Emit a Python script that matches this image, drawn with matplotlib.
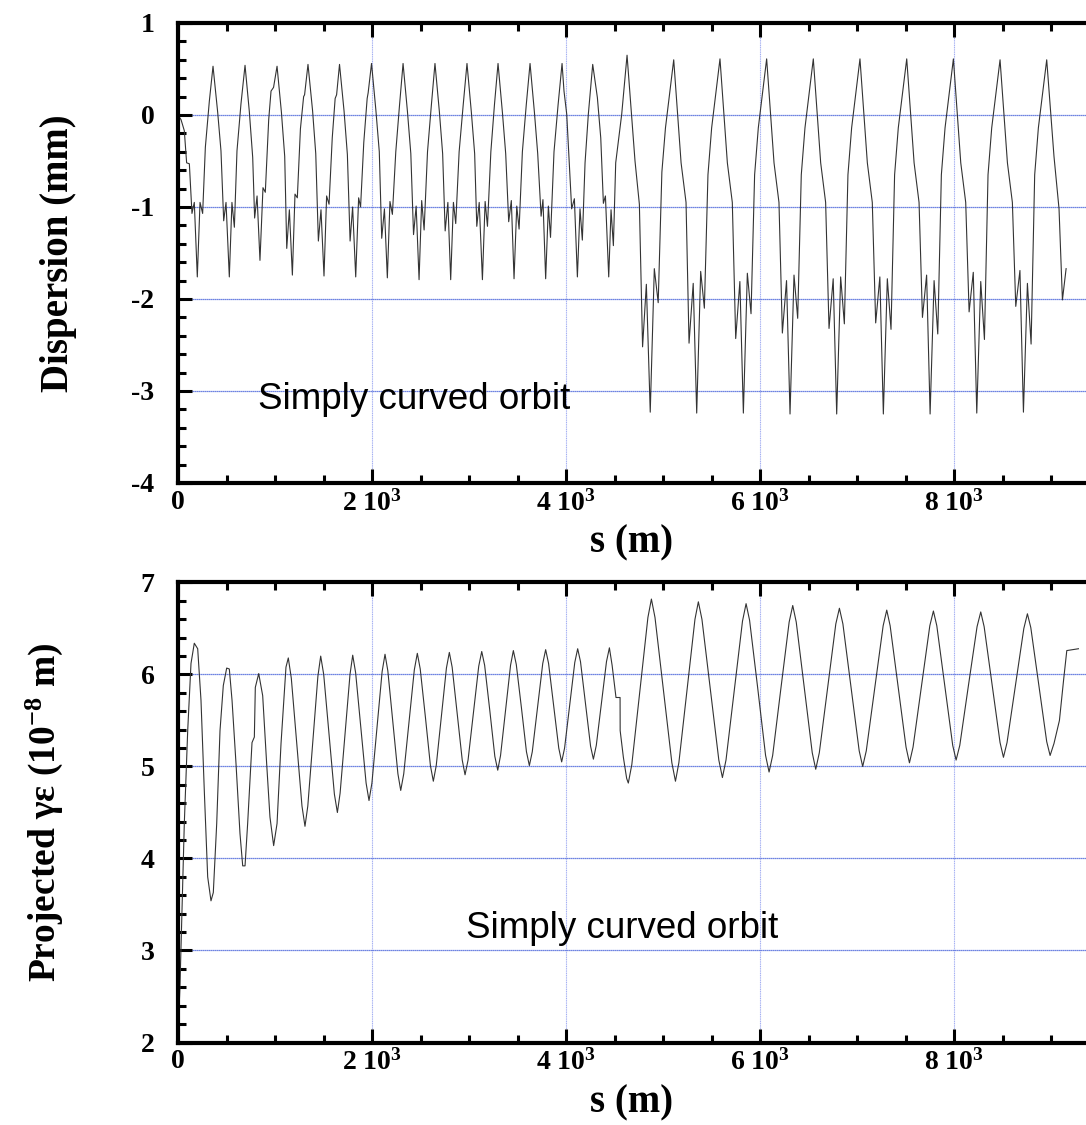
import matplotlib
matplotlib.use("Agg")
import matplotlib.pyplot as plt
from matplotlib.ticker import MultipleLocator, FixedLocator, FixedFormatter

# ---- data ----
# top panel: dispersion (mm) along s (m)
disp_s = [
    0, 31, 65, 89, 117, 144, 168, 199, 227, 254, 282, 323, 361,
    409, 443, 471, 495, 529, 556, 581, 608, 649, 691,
    735, 770, 790, 815, 845, 876, 900, 935, 959, 985, 1021,
    1066, 1100, 1121, 1148, 1179, 1206, 1230, 1262, 1295, 1305, 1340,
    1387, 1420, 1447, 1474, 1505, 1532, 1557, 1590, 1620, 1635, 1665,
    1712, 1746, 1774, 1800, 1832, 1862, 1882, 1915, 1950, 1960, 1995,
    2040, 2075, 2100, 2128, 2158, 2185, 2210, 2245, 2283, 2320,
    2365, 2400, 2428, 2455, 2485, 2512, 2537, 2572, 2612, 2649,
    2694, 2728, 2754, 2782, 2811, 2839, 2863, 2898, 2940, 2979,
    3024, 3058, 3080, 3105, 3138, 3166, 3190, 3225, 3262, 3299,
    3344, 3378, 3409, 3436, 3464, 3492, 3516, 3550, 3590, 3629,
    3674, 3708, 3743, 3762, 3790, 3818, 3840, 3876, 3918, 3959,
    3979, 4007, 4058, 4086, 4117, 4144, 4168, 4196, 4230, 4275,
    4323, 4358, 4385, 4406, 4440, 4464, 4488, 4512, 4574, 4629,
    4711, 4756, 4789, 4828, 4868, 4910, 4950, 4988, 5025, 5110,
    5186, 5237, 5268, 5311, 5347, 5388, 5426, 5463, 5501, 5587,
    5663, 5714, 5749, 5792, 5828, 5869, 5907, 5944, 5982, 6068,
    6144, 6195, 6230, 6273, 6309, 6350, 6388, 6425, 6463, 6549,
    6625, 6676, 6711, 6754, 6790, 6831, 6869, 6906, 6944, 7030,
    7106, 7157, 7192, 7235, 7271, 7312, 7350, 7387, 7425, 7512,
    7588, 7639, 7674, 7717, 7753, 7794, 7832, 7869, 7907, 7993,
    8069, 8120, 8155, 8198, 8234, 8275, 8313, 8350, 8388, 8474,
    8550, 8601, 8636, 8679, 8715, 8756, 8794, 8831, 8869, 8955,
    9030, 9082, 9117, 9155,
]
disp_mm = [
    0.00, -0.05, -0.17, -0.52, -0.53, -1.07, -0.95, -1.76, -0.95, -1.07, -0.35, 0.15, 0.53,
    0.03, -0.39, -1.15, -0.95, -1.76, -0.95, -1.22, -0.39, 0.12, 0.54,
    0.04, -0.46, -1.12, -0.88, -1.58, -0.79, -0.84, -0.05, 0.26, 0.30, 0.53,
    0.03, -0.45, -1.45, -1.03, -1.74, -0.86, -0.90, -0.15, 0.20, 0.22, 0.55,
    0.05, -0.42, -1.37, -1.03, -1.75, -0.88, -0.97, -0.25, 0.18, 0.22, 0.55,
    0.04, -0.43, -1.37, -1.00, -1.76, -0.90, -1.00, -0.30, 0.18, 0.24, 0.56,
    0.05, -0.40, -1.34, -1.02, -1.77, -0.94, -1.08, -0.40, 0.10, 0.56,
    0.04, -0.42, -1.30, -0.99, -1.79, -0.93, -1.25, -0.40, 0.11, 0.56,
    0.04, -0.42, -1.26, -0.95, -1.79, -0.95, -1.18, -0.40, 0.11, 0.56,
    0.03, -0.42, -1.21, -0.95, -1.79, -0.94, -1.21, -0.40, 0.11, 0.56,
    0.03, -0.42, -1.16, -0.93, -1.78, -0.99, -1.24, -0.40, 0.11, 0.56,
    0.03, -0.42, -1.10, -0.92, -1.78, -0.99, -1.33, -0.40, 0.11, 0.56,
    0.26, 0.01, -1.02, -0.91, -1.76, -1.02, -1.36, -0.52, 0.01, 0.55,
    0.19, -0.25, -0.96, -0.88, -1.76, -1.03, -1.42, -0.52, 0.01, 0.65,
    -0.50, -0.97, -2.52, -1.84, -3.23, -1.67, -2.04, -0.62, -0.14, 0.60,
    -0.52, -0.95, -2.48, -1.83, -3.24, -1.70, -2.10, -0.65, -0.14, 0.61,
    -0.52, -0.95, -2.43, -1.81, -3.24, -1.72, -2.16, -0.65, -0.14, 0.61,
    -0.52, -0.95, -2.37, -1.80, -3.25, -1.74, -2.21, -0.65, -0.14, 0.61,
    -0.52, -0.95, -2.32, -1.78, -3.25, -1.76, -2.27, -0.65, -0.14, 0.61,
    -0.52, -0.95, -2.26, -1.76, -3.25, -1.78, -2.33, -0.65, -0.14, 0.61,
    -0.52, -0.95, -2.20, -1.74, -3.25, -1.80, -2.38, -0.65, -0.14, 0.61,
    -0.52, -0.95, -2.14, -1.71, -3.24, -1.81, -2.44, -0.65, -0.14, 0.60,
    -0.52, -0.95, -2.08, -1.69, -3.23, -1.83, -2.49, -0.65, -0.14, 0.60,
    -0.45, -1.02, -2.01, -1.67,
]

# bottom panel: projected gamma*epsilon (1e-8 m) along s (m)
emit_s = [
    0, 20, 40, 65, 100, 134, 168, 203, 237, 271, 306, 340, 364,
    399, 433, 467, 502, 529, 557, 598, 639, 667, 691,
    718, 763, 787, 797, 832, 873, 914, 948, 986, 1021, 1062, 1113,
    1137, 1168, 1223, 1278, 1309, 1338, 1390, 1442,
    1471, 1502, 1557, 1612, 1643, 1671, 1722, 1773,
    1801, 1831, 1885, 1939, 1969, 1999, 2052, 2104,
    2134, 2163, 2215, 2267, 2296, 2327, 2382, 2436,
    2467, 2497, 2550, 2602, 2632, 2662, 2715, 2767,
    2797, 2826, 2878, 2930, 2959, 2990, 3045, 3100,
    3131, 3161, 3214, 3266, 3296, 3325, 3377, 3428,
    3457, 3487, 3540, 3592, 3622, 3652, 3706, 3760,
    3790, 3820, 3873, 3925, 3955, 3985, 4038, 4090,
    4120, 4149, 4201, 4253, 4282, 4312, 4365, 4417,
    4447, 4475, 4515, 4557, 4558, 4591, 4625, 4642,
    4678, 4761, 4844, 4880, 4917, 5004, 5091, 5128,
    5163, 5246, 5329, 5364, 5401, 5488, 5575, 5612,
    5649, 5734, 5819, 5856, 5892, 5975, 6057, 6093,
    6130, 6215, 6300, 6337, 6373, 6456, 6538, 6574,
    6611, 6696, 6781, 6818, 6854, 6938, 7022, 7058,
    7095, 7182, 7269, 7306, 7341, 7423, 7505, 7540,
    7577, 7664, 7750, 7787, 7822, 7904, 7986, 8021,
    8059, 8148, 8237, 8275, 8310, 8392, 8474, 8509,
    8546, 8633, 8719, 8756, 8791, 8873, 8955, 8990,
    9030, 9086, 9130, 9162, 9282,
]
emit_val = [
    2.10, 2.60, 3.40, 4.38, 5.39, 6.12, 6.34, 6.28, 5.72, 4.74, 3.80, 3.54, 3.63,
    4.38, 5.39, 5.88, 6.07, 6.06, 5.72, 5.03, 4.27, 3.92, 3.92,
    4.38, 5.26, 5.32, 5.86, 6.01, 5.77, 5.03, 4.45, 4.14, 4.38, 5.25, 6.08,
    6.18, 5.96, 5.27, 4.57, 4.35, 4.57, 5.28, 5.98,
    6.20, 6.00, 5.35, 4.70, 4.50, 4.71, 5.36, 6.00,
    6.21, 6.02, 5.42, 4.82, 4.63, 4.82, 5.43, 6.03,
    6.22, 6.04, 5.48, 4.92, 4.74, 4.92, 5.49, 6.05,
    6.23, 6.06, 5.54, 5.01, 4.84, 5.01, 5.54, 6.07,
    6.24, 6.08, 5.58, 5.07, 4.91, 5.07, 5.58, 6.09,
    6.25, 6.10, 5.61, 5.11, 4.96, 5.12, 5.61, 6.10,
    6.26, 6.11, 5.64, 5.16, 5.01, 5.16, 5.64, 6.12,
    6.27, 6.12, 5.66, 5.20, 5.05, 5.20, 5.67, 6.13,
    6.28, 6.14, 5.68, 5.22, 5.08, 5.23, 5.69, 6.14,
    6.29, 6.10, 5.75, 5.75, 5.39, 5.10, 4.87, 4.82,
    5.02, 5.82, 6.62, 6.82, 6.62, 5.83, 5.04, 4.84,
    5.04, 5.82, 6.60, 6.79, 6.60, 5.84, 5.07, 4.88,
    5.07, 5.83, 6.58, 6.77, 6.59, 5.86, 5.12, 4.94,
    5.12, 5.85, 6.57, 6.75, 6.57, 5.86, 5.15, 4.97,
    5.15, 5.85, 6.55, 6.72, 6.55, 5.86, 5.17, 5.00,
    5.17, 5.85, 6.53, 6.70, 6.53, 5.87, 5.21, 5.04,
    5.21, 5.87, 6.53, 6.69, 6.53, 5.88, 5.23, 5.07,
    5.23, 5.88, 6.52, 6.68, 6.52, 5.89, 5.26, 5.10,
    5.26, 5.88, 6.50, 6.66, 6.51, 5.89, 5.27, 5.12,
    5.25, 5.50, 5.95, 6.26, 6.28,
]

x_ticks = [0, 2000, 4000, 6000, 8000]
x_tick_labels = ['0', r'2 10$^{\mathbf{3}}$', r'4 10$^{\mathbf{3}}$',
                 r'6 10$^{\mathbf{3}}$', r'8 10$^{\mathbf{3}}$']
annotation = 'Simply curved orbit'

plt.rcParams['font.family'] = ['Liberation Serif', 'DejaVu Serif']
plt.rcParams['font.weight'] = 'bold'
plt.rcParams['axes.unicode_minus'] = False
plt.rcParams['mathtext.fontset'] = 'custom'
plt.rcParams['mathtext.rm'] = 'Liberation Serif:bold'
plt.rcParams['mathtext.bf'] = 'Liberation Serif:bold'
plt.rcParams['mathtext.it'] = 'Liberation Serif:bold:italic'

W, H = 1086, 1125
fig = plt.figure(figsize=(W / 100, H / 100), dpi=100)

left = 178 / W
width = 1 - left
ax1 = fig.add_axes([left, 1 - 483 / H, width, 460 / H])
ax2 = fig.add_axes([left, 1 - 1042.5 / H, width, 460 / H])


def style_axes(ax, ylim, ymaj, ymin):
    ax.set_xlim(0, 9360)
    ax.set_ylim(*ylim)
    ax.xaxis.set_major_locator(FixedLocator(x_ticks))
    ax.xaxis.set_major_formatter(FixedFormatter(x_tick_labels))
    ax.xaxis.set_minor_locator(MultipleLocator(500))
    ax.yaxis.set_major_locator(MultipleLocator(ymaj))
    ax.yaxis.set_minor_locator(MultipleLocator(ymin))
    ax.tick_params(which='both', direction='in', top=True, right=False,
                   width=2.2, labelsize=20)
    ax.tick_params(which='major', length=10)
    ax.tick_params(which='minor', length=5.5)
    ax.tick_params(axis='x', pad=5)
    ax.tick_params(axis='y', pad=17)
    for lab in ax.get_xticklabels() + ax.get_yticklabels():
        lab.set_fontweight('bold')
    for side in ('left', 'top', 'bottom'):
        ax.spines[side].set_linewidth(3)
    ax.spines['right'].set_visible(False)
    ax.grid(axis='y', which='major', color='#3f5bd8', lw=0.9, ls=(0, (1, 0.6)))
    ax.grid(axis='x', which='major', color='#a3aef2', lw=0.8, ls=(0, (1, 0.6)))
    ax.set_axisbelow(True)
    ax.set_xlabel('s (m)', fontsize=28, fontweight='bold', labelpad=6)


style_axes(ax1, (-4, 1), 1, 0.2)
ax1.plot(disp_s, disp_mm, color='#333333', lw=0.8)
ax1.set_ylabel('Dispersion (mm)', fontsize=28, fontweight='bold')
ax1.yaxis.set_label_coords(-0.111, 0.5)
ax1.text(825, -3.2, annotation, family='Liberation Sans', fontweight='normal',
         fontsize=26.5, va='baseline', ha='left')

style_axes(ax2, (2, 7), 1, 0.2)
ax2.plot(emit_s, emit_val, color='#333333', lw=0.8)
ax2.set_ylabel(r'Projected γε (10$^{\mathbf{-8}}$ m)', fontsize=27,
               fontweight='bold')
ax2.yaxis.set_label_coords(-0.124, 0.5)
ax2.text(2969, 3.14, annotation, family='Liberation Sans', fontweight='normal',
         fontsize=26.5, va='baseline', ha='left')

fig.savefig('out.png', dpi=100)
